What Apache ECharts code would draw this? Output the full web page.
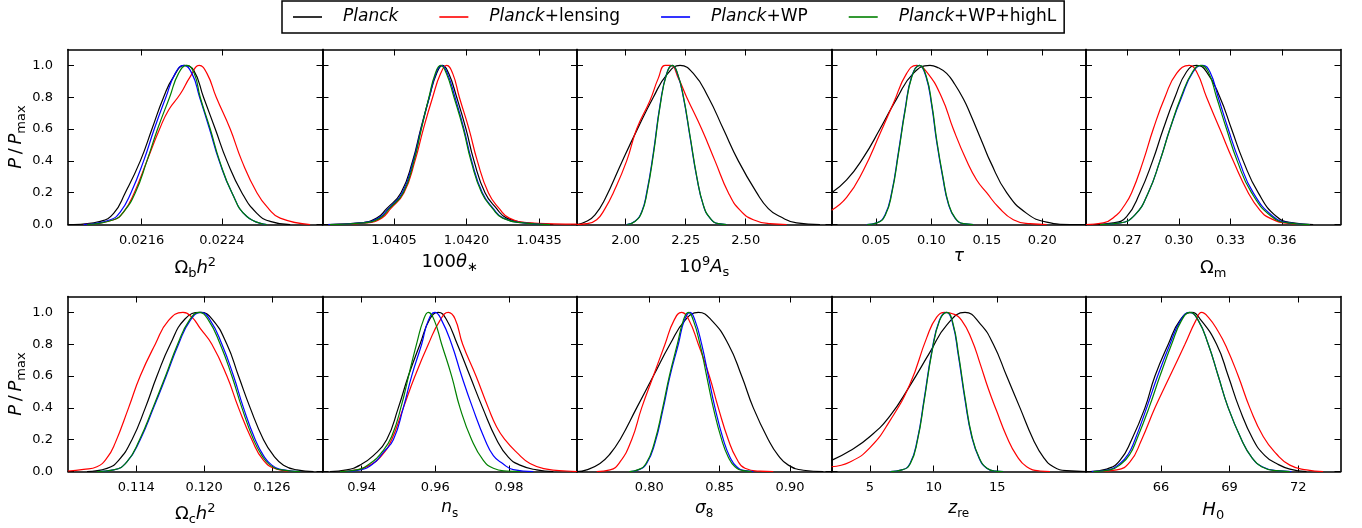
<!DOCTYPE html>
<html><head><meta charset="utf-8">
<script src="https://cdn.jsdelivr.net/npm/echarts@6/dist/echarts.min.js"></script>
<style>html,body{margin:0;padding:0;background:#fff}#c{width:1362px;height:528px}</style>
</head><body><div id="c"></div>
<script>
// ---------- data ----------
const seriesNames = ['Planck', 'Planck+lensing', 'Planck+WP', 'Planck+WP+highL'];
const yTicks = [0, 0.2, 0.4, 0.6, 0.8, 1.0];

// Panel 1: Omega_b h^2
const ombh2Range = [0.020866, 0.023403];
const ombh2Ticks = [0.0216, 0.0224];
const ombh2Planck = [[0.020923,0],[0.021188,0.02],[0.021321,0.07],[0.021437,0.2],[0.021587,0.4],[0.021703,0.6],[0.021819,0.8],[0.021919,0.93],[0.022028,1.0],[0.022118,0.97],[0.022217,0.8],[0.022334,0.6],[0.022450,0.4],[0.022599,0.2],[0.022749,0.07],[0.022881,0.02],[0.023081,0]];
const ombh2Lensing = [[0.021022,0],[0.021321,0.03],[0.021421,0.08],[0.021527,0.2],[0.021653,0.4],[0.021779,0.6],[0.021869,0.72],[0.021985,0.82],[0.022085,0.93],[0.022174,1.0],[0.022251,0.95],[0.022344,0.8],[0.022483,0.6],[0.022599,0.4],[0.022749,0.2],[0.022865,0.1],[0.022981,0.04],[0.023280,0]];
const ombh2WP = [[0.021022,0],[0.021288,0.03],[0.021388,0.08],[0.021494,0.2],[0.021620,0.4],[0.021726,0.6],[0.021842,0.8],[0.021935,0.95],[0.022018,1.0],[0.022101,0.95],[0.022178,0.8],[0.022277,0.6],[0.022373,0.4],[0.022500,0.2],[0.022649,0.05],[0.022848,0]];
const ombh2HighL = [[0.021056,0],[0.021321,0.03],[0.021421,0.08],[0.021537,0.2],[0.021653,0.4],[0.021759,0.6],[0.021879,0.8],[0.021968,0.95],[0.022051,1.0],[0.022124,0.95],[0.022184,0.8],[0.022284,0.6],[0.022377,0.4],[0.022500,0.2],[0.022649,0.05],[0.022848,0]];

// Panel 2: 100 theta_*
const thetaRange = [1.039021, 1.044286];
const thetaTicks = [1.0405, 1.0420, 1.0435];
const thetaPlanck = [[1.039107,0],[1.039797,0.01],[1.040141,0.04],[1.040348,0.1],[1.040645,0.2],[1.040886,0.4],[1.041052,0.6],[1.041231,0.8],[1.041383,0.95],[1.041507,1.0],[1.041631,0.95],[1.041797,0.8],[1.041990,0.6],[1.042155,0.4],[1.042383,0.2],[1.042624,0.1],[1.042831,0.04],[1.043245,0.01],[1.043797,0]];
const thetaLensing = [[1.039245,0],[1.039934,0.01],[1.040245,0.04],[1.040431,0.1],[1.040707,0.2],[1.040934,0.4],[1.041107,0.6],[1.041300,0.8],[1.041466,0.95],[1.041590,1.0],[1.041714,0.95],[1.041852,0.8],[1.042052,0.6],[1.042224,0.4],[1.042452,0.2],[1.042679,0.1],[1.042886,0.04],[1.043314,0.01],[1.043797,0.004],[1.044286,0.002]];
const thetaWP = [[1.039141,0],[1.039831,0.01],[1.040176,0.04],[1.040383,0.1],[1.040672,0.2],[1.040900,0.4],[1.041059,0.6],[1.041231,0.8],[1.041369,0.95],[1.041486,1.0],[1.041603,0.95],[1.041762,0.8],[1.041948,0.6],[1.042107,0.4],[1.042328,0.2],[1.042555,0.1],[1.042762,0.04],[1.043176,0.01],[1.043728,0]];
const thetaHighL = [[1.039176,0],[1.039866,0.01],[1.040210,0.04],[1.040403,0.1],[1.040693,0.2],[1.040914,0.4],[1.041066,0.6],[1.041224,0.8],[1.041355,0.95],[1.041466,1.0],[1.041583,0.95],[1.041741,0.8],[1.041934,0.6],[1.042093,0.4],[1.042314,0.2],[1.042541,0.1],[1.042748,0.04],[1.043176,0.01],[1.043728,0]];

// Panel 3: 10^9 A_s
const asRange = [1.7972, 2.8576];
const asTicks = [2.00, 2.25, 2.50];
const asPlanck = [[1.7972,0],[1.8375,0.02],[1.8722,0.06],[1.9139,0.16],[1.9833,0.39],[2.0458,0.59],[2.1153,0.8],[2.1708,0.94],[2.2264,1.0],[2.2819,0.95],[2.3444,0.8],[2.4069,0.6],[2.4694,0.4],[2.5458,0.2],[2.5944,0.1],[2.6431,0.05],[2.7125,0.01],[2.8097,0]];
const asLensing = [[1.7972,0],[1.8375,0.005],[1.8792,0.03],[1.9139,0.1],[1.9486,0.2],[2.0042,0.4],[2.0458,0.6],[2.1014,0.78],[2.1361,0.92],[2.1639,1.0],[2.1875,1.0],[2.2194,0.92],[2.2542,0.8],[2.3167,0.6],[2.3722,0.4],[2.4278,0.2],[2.4764,0.09],[2.5319,0.03],[2.6014,0.005],[2.6708,0]];
const asWP = [[2.0042,0],[2.0389,0.02],[2.0667,0.08],[2.0875,0.2],[2.1153,0.45],[2.1431,0.75],[2.1708,0.95],[2.1944,1.0],[2.2153,0.95],[2.2403,0.8],[2.2681,0.55],[2.2958,0.3],[2.3236,0.12],[2.3514,0.04],[2.3861,0.005],[2.4208,0]];
const asHighL = [[2.0060,0],[2.0400,0.02],[2.0680,0.08],[2.0890,0.2],[2.1165,0.45],[2.1440,0.75],[2.1715,0.95],[2.1950,1.0],[2.2160,0.95],[2.2410,0.8],[2.2690,0.55],[2.2965,0.3],[2.3240,0.12],[2.3520,0.04],[2.3861,0.005],[2.4208,0]];

// Panel 4: tau
const tauRange = [0.0099, 0.2394];
const tauTicks = [0.05, 0.10, 0.15, 0.20];
const tauPlanck = [[0.0100,0.2],[0.02354,0.28],[0.03857,0.42],[0.05361,0.6],[0.06864,0.79],[0.08367,0.95],[0.09871,1.0],[0.10620,0.985],[0.11374,0.95],[0.12120,0.88],[0.12877,0.79],[0.13480,0.70],[0.14080,0.6],[0.14680,0.5],[0.15283,0.4],[0.16786,0.2],[0.18590,0.07],[0.20394,0.015],[0.22498,0],[0.2394,0]];
const tauLensing = [[0.0100,0.09],[0.02354,0.17],[0.03857,0.34],[0.05361,0.57],[0.06563,0.76],[0.07766,0.95],[0.08668,1.0],[0.09570,0.96],[0.10923,0.8],[0.11975,0.6],[0.13178,0.4],[0.14080,0.28],[0.14982,0.2],[0.16034,0.11],[0.17387,0.03],[0.18890,0.005],[0.20394,0]];
const tauWP = [[0.04158,0],[0.05060,0.01],[0.05812,0.06],[0.06413,0.2],[0.07014,0.45],[0.07616,0.72],[0.08217,0.93],[0.08909,1.0],[0.09510,0.93],[0.10021,0.75],[0.10472,0.52],[0.11013,0.3],[0.11524,0.13],[0.12126,0.04],[0.12877,0.005],[0.13779,0]];
const tauHighL = [[0.04200,0],[0.05100,0.01],[0.05850,0.06],[0.06440,0.2],[0.07040,0.45],[0.07640,0.72],[0.08240,0.93],[0.08930,1.0],[0.09540,0.93],[0.10050,0.75],[0.10500,0.52],[0.11040,0.3],[0.11550,0.13],[0.12150,0.04],[0.12900,0.005],[0.13779,0]];

// Panel 5: Omega_m
const omRange = [0.2460, 0.3939];
const omTicks = [0.27, 0.30, 0.33, 0.36];
const omPlanck = [[0.25026,0],[0.26187,0.01],[0.26961,0.05],[0.27735,0.2],[0.28471,0.4],[0.29090,0.6],[0.29768,0.8],[0.30445,0.96],[0.31026,1.0],[0.31606,0.96],[0.32381,0.8],[0.33058,0.6],[0.33735,0.4],[0.34606,0.2],[0.35671,0.05],[0.36639,0.01],[0.37800,0]];
const omLensing = [[0.24600,0],[0.25606,0.01],[0.26381,0.06],[0.26768,0.11],[0.27252,0.2],[0.27929,0.4],[0.28510,0.6],[0.29187,0.8],[0.29865,0.95],[0.30600,1.0],[0.31026,0.96],[0.31606,0.8],[0.32381,0.6],[0.33155,0.4],[0.34026,0.2],[0.34703,0.09],[0.35284,0.04],[0.36252,0.008],[0.37413,0]];
const omWP = [[0.25413,0],[0.26574,0.01],[0.27445,0.06],[0.28219,0.2],[0.28897,0.4],[0.29477,0.6],[0.30155,0.8],[0.30832,0.96],[0.31374,1.0],[0.31800,0.96],[0.32284,0.8],[0.32865,0.6],[0.33503,0.4],[0.34316,0.2],[0.35477,0.05],[0.36445,0.01],[0.37606,0]];
const omHighL = [[0.25413,0],[0.26574,0.01],[0.27445,0.06],[0.28219,0.2],[0.28897,0.4],[0.29477,0.6],[0.30116,0.8],[0.30794,0.96],[0.31277,1.0],[0.31703,0.96],[0.32187,0.8],[0.32768,0.6],[0.33387,0.4],[0.34219,0.2],[0.35381,0.05],[0.36348,0.01],[0.37606,0]];

// Panel 6: Omega_c h^2
const omch2Range = [0.10796, 0.13048];
const omch2Ticks = [0.114, 0.120, 0.126];
const omch2Planck = [[0.10964,0],[0.11141,0.02],[0.11244,0.07],[0.11362,0.2],[0.11480,0.4],[0.11583,0.6],[0.11701,0.8],[0.11833,0.96],[0.11966,1.0],[0.12069,0.96],[0.12202,0.8],[0.12305,0.6],[0.12408,0.4],[0.12526,0.2],[0.12615,0.1],[0.12703,0.04],[0.12821,0.01],[0.12969,0]];
const omch2Lensing = [[0.10796,0.003],[0.10934,0.013],[0.11052,0.03],[0.11141,0.085],[0.11214,0.18],[0.11332,0.4],[0.11435,0.6],[0.11568,0.8],[0.11686,0.95],[0.11813,1.0],[0.11892,0.97],[0.11966,0.9],[0.12069,0.8],[0.12202,0.6],[0.12305,0.4],[0.12423,0.2],[0.12526,0.07],[0.12644,0.015],[0.12792,0]];
const omch2WP = [[0.11052,0],[0.11200,0.01],[0.11317,0.06],[0.11435,0.2],[0.11553,0.4],[0.11665,0.6],[0.11774,0.8],[0.11878,0.95],[0.11972,1.0],[0.12055,0.95],[0.12158,0.8],[0.12261,0.6],[0.12349,0.4],[0.12453,0.2],[0.12526,0.1],[0.12600,0.04],[0.12703,0.01],[0.12851,0]];
const omch2HighL = [[0.11052,0],[0.11200,0.01],[0.11317,0.06],[0.11429,0.2],[0.11547,0.4],[0.11659,0.6],[0.11766,0.8],[0.11869,0.95],[0.11957,1.0],[0.12040,0.95],[0.12143,0.8],[0.12246,0.6],[0.12335,0.4],[0.12438,0.2],[0.12512,0.1],[0.12585,0.04],[0.12688,0.01],[0.12851,0]];

// Panel 7: n_s
const nsRange = [0.92937, 0.99846];
const nsTicks = [0.94, 0.96, 0.98];
const nsPlanck = [[0.93140,0],[0.93593,0.01],[0.93955,0.04],[0.94317,0.1],[0.94679,0.2],[0.94995,0.4],[0.95267,0.6],[0.95584,0.8],[0.95855,0.96],[0.96081,1.0],[0.96290,0.96],[0.96597,0.8],[0.96941,0.6],[0.97285,0.4],[0.97665,0.2],[0.97981,0.09],[0.98299,0.04],[0.98751,0.01],[0.99204,0]];
const nsLensing = [[0.93412,0],[0.93864,0.01],[0.94226,0.04],[0.94543,0.1],[0.94814,0.2],[0.95131,0.4],[0.95448,0.6],[0.95810,0.8],[0.96127,0.95],[0.96353,1.0],[0.96534,0.96],[0.96742,0.8],[0.97104,0.6],[0.97439,0.4],[0.97665,0.28],[0.97891,0.2],[0.98208,0.12],[0.98570,0.05],[0.99023,0.015],[0.99566,0.003],[0.99846,0]];
const nsWP = [[0.93502,0],[0.93955,0.01],[0.94317,0.05],[0.94588,0.12],[0.94860,0.2],[0.95131,0.4],[0.95357,0.6],[0.95629,0.8],[0.95810,0.95],[0.95991,1.0],[0.96172,0.95],[0.96443,0.8],[0.96715,0.6],[0.97014,0.4],[0.97348,0.2],[0.97575,0.1],[0.97828,0.05],[0.98118,0.012],[0.98661,0]];
const nsHighL = [[0.93412,0],[0.93864,0.01],[0.94226,0.05],[0.94543,0.12],[0.94814,0.22],[0.95086,0.42],[0.95294,0.62],[0.95511,0.82],[0.95674,0.95],[0.95810,1.0],[0.95973,0.95],[0.96172,0.8],[0.96443,0.6],[0.96670,0.4],[0.96986,0.2],[0.97303,0.07],[0.97575,0.02],[0.97937,0.003],[0.98299,0]];

// Panel 8: sigma_8
const s8Range = [0.74858, 0.92950];
const s8Ticks = [0.80, 0.85, 0.90];
const s8Planck = [[0.74858,0],[0.75545,0.01],[0.76493,0.05],[0.77204,0.11],[0.77915,0.2],[0.79100,0.4],[0.80284,0.6],[0.81469,0.8],[0.82536,0.95],[0.83483,1.0],[0.84431,0.95],[0.85616,0.8],[0.86564,0.6],[0.87393,0.4],[0.88460,0.2],[0.89171,0.1],[0.89882,0.04],[0.90948,0.008],[0.92370,0]];
const s8Lensing = [[0.76256,0],[0.77204,0.01],[0.77915,0.06],[0.78744,0.2],[0.79455,0.4],[0.80284,0.6],[0.81114,0.8],[0.81754,0.95],[0.82299,1.0],[0.82773,0.96],[0.83483,0.8],[0.84265,0.6],[0.84905,0.4],[0.85616,0.2],[0.86209,0.08],[0.86801,0.02],[0.87867,0.002],[0.88815,0]];
const s8WP = [[0.78626,0],[0.79218,0.01],[0.79810,0.05],[0.80403,0.18],[0.80995,0.4],[0.81469,0.6],[0.82062,0.8],[0.82488,0.95],[0.82891,1.0],[0.83246,0.95],[0.83720,0.8],[0.84194,0.6],[0.84668,0.4],[0.85261,0.2],[0.85735,0.09],[0.86209,0.03],[0.86801,0.005],[0.87393,0]];
const s8HighL = [[0.78578,0],[0.79171,0.01],[0.79763,0.05],[0.80355,0.18],[0.80948,0.4],[0.81422,0.6],[0.81991,0.8],[0.82417,0.95],[0.82773,1.0],[0.83128,0.95],[0.83602,0.8],[0.84076,0.6],[0.84550,0.4],[0.85142,0.2],[0.85616,0.09],[0.86090,0.03],[0.86682,0.005],[0.87275,0]];

// Panel 9: z_re
const zreRange = [1.976, 21.963];
const zreTicks = [5, 10, 15];
const zrePlanck = [[1.98,0.07],[3.429,0.13],[5.0,0.22],[6.571,0.35],[8.141,0.54],[9.712,0.75],[11.021,0.92],[12.461,1.0],[13.639,0.93],[14.686,0.8],[15.733,0.6],[16.780,0.4],[17.827,0.2],[18.613,0.09],[19.398,0.03],[20.445,0.005],[21.96,0]];
const zreLensing = [[1.98,0.03],[3.429,0.06],[5.0,0.15],[6.571,0.32],[8.141,0.55],[9.450,0.84],[10.236,0.97],[10.890,1.0],[11.545,0.99],[12.199,0.95],[12.984,0.83],[13.639,0.68],[14.293,0.52],[14.948,0.38],[15.733,0.22],[16.518,0.1],[17.304,0.03],[18.351,0.003],[19.136,0]];
const zreWP = [[6.571,0],[7.487,0.01],[8.141,0.05],[8.717,0.2],[9.241,0.45],[9.843,0.75],[10.445,0.95],[11.021,1.0],[11.492,0.93],[11.937,0.73],[12.461,0.45],[12.984,0.22],[13.586,0.08],[14.162,0.02],[14.817,0.002],[15.471,0]];
const zreHighL = [[6.600,0],[7.510,0.01],[8.170,0.05],[8.740,0.2],[9.265,0.45],[9.865,0.75],[10.470,0.95],[11.050,1.0],[11.520,0.93],[11.965,0.73],[12.490,0.45],[13.010,0.22],[13.610,0.08],[14.190,0.02],[14.840,0.002],[15.471,0]];

// Panel 10: H_0
const h0Range = [62.723, 73.85];
const h0Ticks = [66, 69, 72];
const h0Planck = [[62.898,0],[63.626,0.015],[64.209,0.07],[64.718,0.2],[65.301,0.4],[65.738,0.6],[66.320,0.8],[66.830,0.95],[67.340,1.0],[67.704,0.96],[68.432,0.8],[68.942,0.6],[69.422,0.4],[70.034,0.2],[70.544,0.1],[71.053,0.05],[71.636,0.015],[72.364,0]];
const h0Lensing = [[63.189,0],[64.063,0.01],[64.646,0.06],[65.155,0.2],[65.738,0.4],[66.393,0.6],[67.049,0.8],[67.529,0.95],[67.777,1.0],[68.068,0.97],[68.505,0.88],[68.869,0.78],[69.379,0.6],[69.888,0.4],[70.471,0.22],[71.053,0.11],[71.636,0.04],[72.364,0.01],[73.092,0]];
const h0WP = [[62.971,0],[63.699,0.01],[64.209,0.05],[64.573,0.11],[64.864,0.2],[65.374,0.4],[65.854,0.6],[66.393,0.8],[66.859,0.95],[67.238,1.0],[67.631,0.95],[68.068,0.8],[68.505,0.6],[68.942,0.4],[69.524,0.2],[69.961,0.09],[70.427,0.03],[71.083,0.005],[71.709,0]];
const h0HighL = [[63.044,0],[63.772,0.01],[64.282,0.05],[64.646,0.11],[64.937,0.2],[65.476,0.4],[65.956,0.6],[66.466,0.8],[66.903,0.95],[67.267,1.0],[67.631,0.95],[68.068,0.8],[68.505,0.6],[68.942,0.4],[69.524,0.2],[69.961,0.09],[70.398,0.03],[71.053,0.005],[71.636,0]];

// ---------- layout / style ----------
const colors = ['#000000', '#ff0000', '#0000ff', '#008000'];
const FONT = 'DejaVu Sans';
function richSet(fs) {
  const s = Math.round(fs * 0.7);
  return {
    r:   {fontFamily: FONT, fontSize: fs, lineHeight: fs + 6, verticalAlign: 'middle', color: '#000'},
    i:   {fontFamily: FONT, fontStyle: 'italic', fontSize: fs, lineHeight: fs + 6, verticalAlign: 'middle', color: '#000'},
    sub: {fontFamily: FONT, fontSize: s, lineHeight: s, verticalAlign: 'bottom', color: '#000'},
    sup: {fontFamily: FONT, fontSize: s, lineHeight: s, verticalAlign: 'top', color: '#000'}
  };
}

const panels = [
  {range: ombh2Range, ticks: ombh2Ticks, dec: 4, name: '{r|Ω}{sub|b}{i|h}{sup|2}', fs: 18, gap: 31.5, curves: [ombh2Planck, ombh2Lensing, ombh2WP, ombh2HighL]},
  {range: thetaRange, ticks: thetaTicks, dec: 4, name: '{r|100}{i|θ}{sub|∗}', fs: 18, gap: 26, curves: [thetaPlanck, thetaLensing, thetaWP, thetaHighL]},
  {range: asRange, ticks: asTicks, dec: 2, name: '{r|10}{sup|9}{i|A}{sub|s}', fs: 18, gap: 31, curves: [asPlanck, asLensing, asWP, asHighL]},
  {range: tauRange, ticks: tauTicks, dec: 2, name: '{i|τ}', fs: 17, gap: 12.5, curves: [tauPlanck, tauLensing, tauWP, tauHighL]},
  {range: omRange, ticks: omTicks, dec: 2, name: '{r|Ω}{sub|m}', fs: 18, gap: 31.5, curves: [omPlanck, omLensing, omWP, omHighL]},
  {range: omch2Range, ticks: omch2Ticks, dec: 3, name: '{r|Ω}{sub|c}{i|h}{sup|2}', fs: 18, gap: 31, curves: [omch2Planck, omch2Lensing, omch2WP, omch2HighL]},
  {range: nsRange, ticks: nsTicks, dec: 2, name: '{i|n}{sub|s}', fs: 17, gap: 25, curves: [nsPlanck, nsLensing, nsWP, nsHighL]},
  {range: s8Range, ticks: s8Ticks, dec: 2, name: '{i|σ}{sub|8}', fs: 17, gap: 25.5, curves: [s8Planck, s8Lensing, s8WP, s8HighL]},
  {range: zreRange, ticks: zreTicks, dec: 0, name: '{i|z}{sub|re}', fs: 17, gap: 25.5, curves: [zrePlanck, zreLensing, zreWP, zreHighL]},
  {range: h0Range, ticks: h0Ticks, dec: 0, name: '{i|H}{sub|0}', fs: 18, gap: 27, curves: [h0Planck, h0Lensing, h0WP, h0HighL]}
];

const colLeft = [68, 322.5, 577, 831.5, 1086], colW = 254.5;
const rowTop = [49.5, 296.5], rowH = 175;

const grids = [], xAxes = [], yAxes = [], series = [];
const tickStyle = {show: true, inside: true, length: 6, lineStyle: {color: '#000', width: 1}};
const lineStyleAx = {show: true, onZero: false, lineStyle: {color: '#000', width: 1.6}};
const labelStyle = {fontFamily: FONT, fontSize: 13, color: '#000'};

panels.forEach((p, k) => {
  const row = Math.floor(k / 5), col = k % 5;
  grids.push({left: colLeft[col], top: rowTop[row], width: colW, height: rowH, containLabel: false});
  xAxes.push({
    type: 'value', gridIndex: k, position: 'bottom', min: p.range[0], max: p.range[1],
    axisLine: lineStyleAx, axisTick: Object.assign({customValues: p.ticks}, tickStyle),
    axisLabel: Object.assign({customValues: p.ticks, margin: 10, formatter: v => v.toFixed(p.dec)}, labelStyle),
    splitLine: {show: false},
    name: p.name, nameLocation: 'middle', nameGap: p.gap, nameTextStyle: {rich: richSet(p.fs)}
  });
  xAxes.push({
    type: 'value', gridIndex: k, position: 'top', min: p.range[0], max: p.range[1],
    axisLine: lineStyleAx, axisTick: Object.assign({customValues: p.ticks}, tickStyle),
    axisLabel: {show: false}, splitLine: {show: false}
  });
  const yl = {
    type: 'value', gridIndex: k, position: 'left', min: 0, max: 1.1,
    axisLine: lineStyleAx, axisTick: Object.assign({customValues: yTicks}, tickStyle),
    axisLabel: Object.assign({show: col === 0, customValues: yTicks, margin: 15, formatter: v => v.toFixed(1)}, labelStyle),
    splitLine: {show: false}
  };
  if (col === 0) {
    yl.name = '{i|P}{r|\u2009/\u2009}{i|P}{sub|max}';
    yl.nameLocation = 'middle';
    yl.nameRotate = 90;
    yl.nameGap = 40;
    yl.nameTextStyle = {rich: richSet(18)};
  }
  yAxes.push(yl);
  yAxes.push({
    type: 'value', gridIndex: k, position: 'right', min: 0, max: 1.1,
    axisLine: lineStyleAx, axisTick: Object.assign({customValues: yTicks}, tickStyle),
    axisLabel: {show: false}, splitLine: {show: false}
  });
  p.curves.forEach((c, j) => {
    series.push({
      type: 'line', name: seriesNames[j], xAxisIndex: 2 * k, yAxisIndex: 2 * k,
      data: c, showSymbol: false, symbol: 'none', smooth: 0.5,
      lineStyle: {width: 1.2, color: colors[j]}, itemStyle: {color: colors[j]},
      z: 2 + j, clip: true
    });
  });
});

const legendRich = {
  i: {fontFamily: FONT, fontStyle: 'italic', fontSize: 17, color: '#000'},
  n: {fontFamily: FONT, fontSize: 17, color: '#000'}
};

const option = {
  animation: false,
  backgroundColor: '#fff',
  grid: grids, xAxis: xAxes, yAxis: yAxes, series: series,
  legend: {
    data: seriesNames.map(n => ({name: n, icon: 'rect'})),
    left: 282, top: 1, orient: 'horizontal', selectedMode: false,
    itemWidth: 29, itemHeight: 1.6, itemGap: 41,
    padding: [6, 8, 6, 11], borderColor: '#000', borderWidth: 1.5,
    textStyle: {fontFamily: FONT, fontSize: 17, lineHeight: 20, color: '#000', padding: [0, 0, 0, 16], rich: legendRich},
    formatter: name => {
      const rest = name.slice(6);
      return '{i|Planck}' + (rest ? '{n|' + rest + '}' : '');
    }
  }
};

const chart = echarts.init(document.getElementById('c'), null, {renderer: 'canvas'});
chart.setOption(option);
</script>
</body></html>
